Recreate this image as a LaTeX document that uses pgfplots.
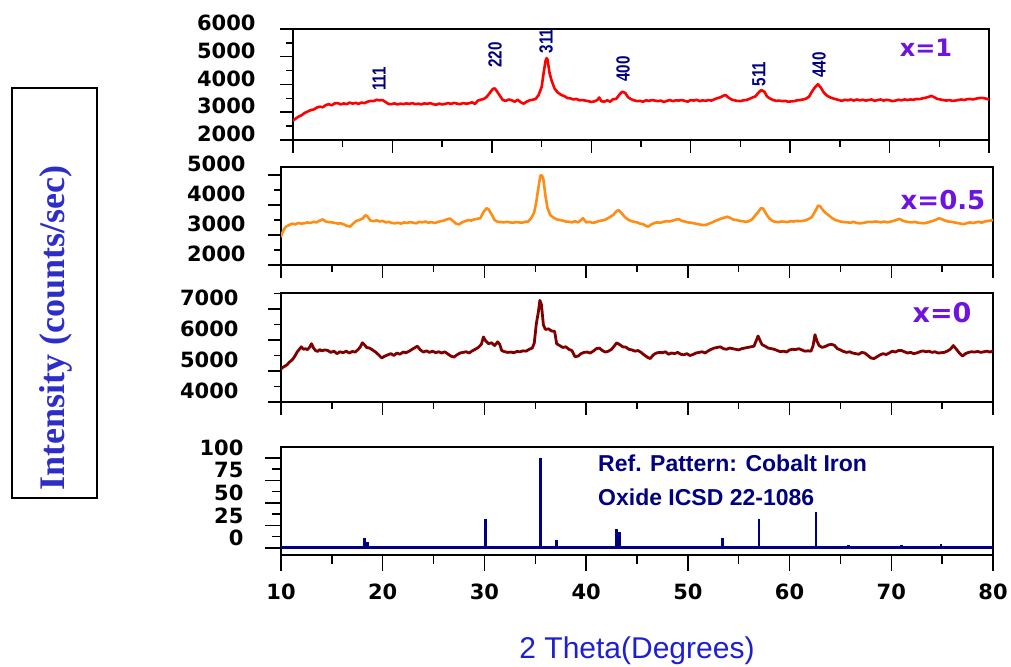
\documentclass[border=0pt]{standalone}
\usepackage{pgfplots}
\pgfplotsset{compat=1.18}
\usepackage{fontspec}
\setmainfont{Liberation Sans}
\newfontfamily\dvs{DejaVu Sans}
\newfontfamily\lsb{Liberation Sans}
\newfontfamily\lsn{Liberation Sans}[FakeStretch=0.8]
\newfontfamily\tnr{Liberation Serif}
\definecolor{c1}{RGB}{255,0,0}
\definecolor{c2}{RGB}{255,140,20}
\definecolor{c3}{RGB}{128,0,0}
\definecolor{navy}{RGB}{0,0,128}
\definecolor{lab}{RGB}{110,20,220}
\definecolor{ylab}{RGB}{45,45,200}
\definecolor{xlab}{RGB}{30,30,210}
\pgfplotsset{panel/.style={
  scale only axis, xmin=10, xmax=80,
  axis line style={line width=1.5pt, black},
  every tick/.style={line width=1.5pt, black},
  tick align=outside,
  xtick={10,20,...,80}, minor xtick={15,25,...,75},
  xtick pos=bottom, ytick pos=left,
  major tick length=13pt, minor tick length=7pt,
  scaled ticks=false,
  /pgf/number format/assume math mode=true,
  /pgf/number format/1000 sep={},
  tick label style={font=\dvs\bfseries\fontsize{21}{21}\selectfont},
  every axis plot/.append style={line join=round, line cap=round},
}}
\begin{document}
\begin{tikzpicture}[x=1pt,y=1pt]
\useasboundingbox (0,0) rectangle (1011,666);
% Panel 1: x=1
\begin{axis}[panel, at={(293pt,526pt)}, anchor=south west, width=696pt, height=111pt,
  ymin=2000, ymax=6000, ytick={2000,3000,4000,5000,6000}, minor ytick={2500,3500,4500,5500},
  xticklabels={}, yticklabel style={xshift=-21pt, yshift=6pt}]
\addplot[c1, line width=2.6pt] coordinates {
(10.0,2700)(10.3,2780)(10.6,2850)(10.9,2900)(11.2,2980)(11.5,3030)(11.8,3080)(12.1,3100)(12.4,3170)(12.7,3200)
(13.0,3180)(13.3,3260)(13.6,3290)(13.9,3250)(14.2,3320)(14.5,3330)(14.8,3280)(15.1,3320)(15.4,3290)(15.7,3350)
(16.0,3310)(16.3,3340)(16.6,3300)(16.9,3350)(17.2,3330)(17.5,3380)(17.8,3410)(18.1,3400)(18.4,3450)(18.7,3430)
(19.0,3440)(19.3,3370)(19.6,3300)(19.9,3290)(20.2,3320)(20.5,3280)(20.8,3310)(21.1,3290)(21.4,3320)(21.7,3300)
(22.0,3330)(22.3,3290)(22.6,3310)(22.9,3280)(23.2,3320)(23.5,3300)(23.8,3330)(24.1,3290)(24.4,3270)(24.7,3310)
(25.0,3280)(25.3,3300)(25.6,3330)(25.9,3300)(26.2,3340)(26.5,3310)(26.8,3290)(27.1,3330)(27.4,3310)(27.7,3320)
(28.0,3360)(28.3,3300)(28.6,3420)(28.9,3450)(29.2,3480)(29.5,3560)(29.8,3700)(30.1,3840)(30.3,3860)(30.5,3760)
(30.8,3600)(31.1,3440)(31.4,3410)(31.7,3460)(32.0,3430)(32.3,3380)(32.6,3450)(32.9,3360)(33.2,3310)(33.5,3380)
(33.8,3430)(34.1,3450)(34.4,3480)(34.7,3620)(35.0,3900)(35.2,4400)(35.4,4850)(35.5,4950)(35.6,4900)(35.8,4420)
(36.0,4150)(36.3,3860)(36.6,3720)(37.0,3620)(37.3,3580)(37.6,3510)(37.9,3500)(38.2,3460)(38.5,3480)(38.8,3430)
(39.1,3440)(39.4,3420)(39.7,3400)(40.0,3370)(40.3,3390)(40.6,3440)(40.8,3530)(41.0,3400)(41.3,3380)(41.6,3430)
(41.9,3380)(42.2,3470)(42.5,3480)(42.8,3620)(43.1,3740)(43.4,3700)(43.7,3540)(44.0,3470)(44.3,3430)(44.6,3400)
(44.9,3410)(45.2,3380)(45.5,3430)(45.8,3410)(46.1,3440)(46.4,3420)(46.7,3400)(47.0,3420)(47.3,3370)(47.6,3410)
(47.9,3440)(48.2,3400)(48.5,3430)(48.8,3420)(49.1,3440)(49.4,3410)(49.7,3380)(50.0,3440)(50.3,3420)(50.6,3450)
(50.9,3400)(51.2,3430)(51.5,3410)(51.8,3440)(52.1,3420)(52.4,3470)(52.7,3510)(53.0,3540)(53.3,3600)(53.5,3620)
(53.8,3530)(54.1,3460)(54.4,3430)(54.7,3410)(55.0,3400)(55.3,3430)(55.6,3440)(55.9,3480)(56.2,3530)(56.5,3570)
(56.8,3700)(57.1,3800)(57.4,3740)(57.7,3560)(58.0,3490)(58.3,3440)(58.6,3410)(58.9,3420)(59.2,3400)(59.5,3410)
(59.8,3380)(60.1,3390)(60.4,3400)(60.7,3430)(61.0,3440)(61.3,3460)(61.6,3490)(61.9,3560)(62.2,3750)(62.5,3900)
(62.8,4010)(63.1,3880)(63.4,3700)(63.7,3600)(64.0,3540)(64.3,3500)(64.6,3470)(64.9,3440)(65.2,3410)(65.5,3450)
(65.8,3430)(66.1,3460)(66.4,3420)(66.7,3460)(67.0,3430)(67.3,3450)(67.6,3420)(67.9,3440)(68.2,3460)(68.5,3410)
(68.8,3440)(69.1,3460)(69.4,3420)(69.7,3450)(70.0,3430)(70.3,3400)(70.6,3420)(70.9,3450)(71.2,3430)(71.5,3460)
(71.8,3440)(72.1,3460)(72.4,3450)(72.7,3480)(73.0,3470)(73.3,3500)(73.6,3520)(73.9,3550)(74.2,3590)(74.5,3540)
(74.8,3480)(75.1,3460)(75.4,3440)(75.7,3420)(76.0,3440)(76.3,3410)(76.6,3420)(76.9,3440)(77.2,3460)(77.5,3440)
(77.8,3470)(78.1,3480)(78.4,3460)(78.7,3490)(79.0,3510)(79.3,3520)(79.6,3500)(80.0,3460)};
\end{axis}
% Panel 2: x=0.5
\begin{axis}[panel, at={(281pt,401pt)}, anchor=south west, width=712pt, height=98pt,
  ymin=2000, ymax=5267, ytick={2000,3000,4000,5000}, minor ytick={2500,3500,4500},
  xticklabels={}, yticklabel style={xshift=-19pt, yshift=11pt}]
\addplot[c2, line width=2.6pt] coordinates {
(10.0,2950)(10.1,3050)(10.3,3200)(10.5,3280)(10.8,3330)(11.1,3380)(11.4,3350)(11.7,3400)(12.0,3380)(12.3,3390)
(12.6,3420)(12.9,3400)(13.2,3440)(13.5,3420)(13.8,3480)(14.1,3520)(14.4,3450)(14.7,3430)(15.0,3420)(15.3,3400)
(15.6,3380)(15.9,3390)(16.2,3350)(16.5,3300)(16.8,3280)(17.1,3380)(17.4,3470)(17.7,3500)(18.0,3540)(18.3,3660)
(18.5,3620)(18.8,3480)(19.1,3460)(19.4,3490)(19.7,3450)(20.0,3470)(20.3,3420)(20.6,3440)(20.9,3400)(21.2,3390)
(21.5,3410)(21.8,3380)(22.1,3420)(22.4,3400)(22.7,3430)(23.0,3410)(23.3,3390)(23.6,3440)(23.9,3420)(24.2,3450)
(24.5,3410)(24.8,3430)(25.1,3400)(25.4,3430)(25.7,3460)(26.0,3480)(26.3,3520)(26.6,3550)(26.9,3470)(27.2,3380)
(27.5,3350)(27.8,3420)(28.1,3460)(28.4,3500)(28.7,3480)(29.0,3520)(29.3,3540)(29.6,3560)(29.9,3760)(30.2,3890)
(30.4,3860)(30.7,3690)(31.0,3500)(31.3,3440)(31.6,3430)(31.9,3420)(32.2,3440)(32.5,3420)(32.8,3410)(33.1,3430)
(33.4,3420)(33.7,3410)(34.0,3440)(34.3,3450)(34.6,3560)(34.9,3760)(35.1,4100)(35.3,4560)(35.5,4980)(35.65,4990)
(35.8,4850)(36.0,4300)(36.2,3900)(36.5,3650)(36.8,3580)(37.1,3520)(37.4,3500)(37.7,3480)(38.0,3450)(38.3,3440)
(38.6,3420)(38.9,3460)(39.2,3420)(39.5,3500)(39.7,3560)(40.0,3420)(40.3,3440)(40.6,3410)(40.9,3420)(41.2,3460)
(41.5,3480)(41.8,3500)(42.1,3550)(42.4,3610)(42.7,3680)(43.0,3800)(43.2,3830)(43.5,3720)(43.8,3600)(44.1,3520)
(44.4,3470)(44.7,3440)(45.0,3420)(45.3,3380)(45.6,3360)(45.9,3300)(46.1,3280)(46.4,3350)(46.7,3400)(47.0,3420)
(47.3,3410)(47.6,3440)(47.9,3460)(48.2,3450)(48.5,3480)(48.8,3510)(49.1,3530)(49.4,3470)(49.7,3450)(50.0,3420)
(50.3,3410)(50.6,3390)(50.9,3370)(51.2,3350)(51.5,3330)(51.8,3340)(52.1,3380)(52.4,3420)(52.7,3470)(53.0,3510)
(53.3,3550)(53.6,3580)(53.9,3610)(54.2,3560)(54.5,3510)(54.8,3500)(55.1,3470)(55.4,3460)(55.7,3440)(56.0,3460)
(56.3,3520)(56.6,3640)(56.9,3760)(57.2,3900)(57.4,3880)(57.7,3700)(58.0,3560)(58.3,3470)(58.6,3440)(58.9,3430)
(59.2,3450)(59.5,3440)(59.8,3430)(60.1,3460)(60.4,3450)(60.7,3470)(61.0,3460)(61.3,3470)(61.6,3490)(61.9,3540)
(62.2,3600)(62.5,3780)(62.8,3980)(63.0,3960)(63.3,3820)(63.6,3720)(63.9,3640)(64.2,3560)(64.5,3500)(64.8,3470)
(65.1,3440)(65.4,3430)(65.7,3420)(66.0,3410)(66.3,3440)(66.6,3400)(66.9,3390)(67.2,3400)(67.5,3420)(67.8,3440)
(68.1,3430)(68.4,3450)(68.7,3440)(69.0,3420)(69.3,3450)(69.6,3420)(69.9,3440)(70.2,3470)(70.5,3500)(70.8,3540)
(71.1,3480)(71.4,3450)(71.7,3430)(72.0,3420)(72.3,3440)(72.6,3410)(72.9,3400)(73.2,3390)(73.5,3410)(73.8,3440)
(74.1,3470)(74.4,3510)(74.7,3560)(75.0,3520)(75.3,3480)(75.6,3450)(75.9,3440)(76.2,3420)(76.5,3400)(76.8,3380)
(77.1,3360)(77.4,3390)(77.7,3420)(78.0,3400)(78.3,3420)(78.6,3440)(78.9,3410)(79.2,3450)(79.5,3470)(79.8,3480)(80.0,3500)};
\end{axis}
% Panel 3: x=0
\begin{axis}[panel, at={(281pt,264pt)}, anchor=south west, width=712pt, height=109pt,
  ymin=4000, ymax=7516, ytick={4000,5000,6000,7000}, minor ytick={4500,5500,6500,7500},
  xticklabels={}, yticklabel style={xshift=-26pt, yshift=11pt}]
\addplot[c3, line width=2.8pt] coordinates {
(10.0,5070)(10.2,5120)(10.4,5160)(10.6,5200)(10.8,5280)(11.0,5330)(11.2,5400)(11.4,5500)(11.6,5620)(11.8,5700)
(12.0,5780)(12.2,5700)(12.4,5720)(12.6,5690)(12.8,5760)(13.0,5880)(13.2,5740)(13.4,5660)(13.6,5630)(13.8,5690)
(14.0,5650)(14.3,5680)(14.6,5660)(14.9,5600)(15.2,5640)(15.5,5560)(15.8,5620)(16.1,5590)(16.4,5640)(16.7,5580)
(17.0,5630)(17.3,5610)(17.6,5700)(17.8,5780)(18.0,5910)(18.2,5850)(18.4,5760)(18.7,5740)(19.0,5680)(19.3,5610)
(19.6,5520)(19.9,5420)(20.2,5480)(20.5,5520)(20.8,5560)(21.1,5500)(21.4,5580)(21.7,5540)(22.0,5610)(22.3,5590)
(22.6,5640)(22.9,5700)(23.2,5760)(23.4,5800)(23.7,5680)(24.0,5610)(24.3,5650)(24.6,5600)(24.9,5640)(25.2,5590)
(25.5,5620)(25.8,5580)(26.1,5620)(26.4,5550)(26.7,5480)(27.0,5450)(27.3,5520)(27.6,5580)(27.9,5600)(28.2,5620)
(28.5,5580)(28.8,5650)(29.1,5700)(29.4,5760)(29.7,5860)(29.9,6100)(30.1,5980)(30.4,5880)(30.7,5910)(31.0,5820)
(31.3,5940)(31.5,5860)(31.7,5660)(32.0,5620)(32.3,5600)(32.6,5610)(32.9,5590)(33.2,5630)(33.5,5620)(33.8,5650)
(34.1,5640)(34.4,5700)(34.7,5740)(34.9,5900)(35.1,6520)(35.3,6900)(35.45,7280)(35.6,7150)(35.8,6480)(36.0,6340)
(36.3,6360)(36.6,6290)(36.9,6280)(37.1,5880)(37.4,5820)(37.7,5760)(38.0,5780)(38.3,5700)(38.6,5660)(38.9,5460)
(39.2,5480)(39.5,5560)(39.8,5600)(40.1,5610)(40.4,5580)(40.7,5640)(41.0,5720)(41.3,5740)(41.6,5660)(41.9,5610)
(42.2,5640)(42.5,5700)(42.8,5820)(43.0,5910)(43.3,5850)(43.6,5780)(43.9,5770)(44.2,5700)(44.5,5680)(44.8,5640)
(45.1,5660)(45.4,5600)(45.7,5520)(46.0,5450)(46.3,5400)(46.6,5520)(46.9,5580)(47.2,5600)(47.5,5590)(47.8,5620)
(48.1,5540)(48.4,5580)(48.7,5560)(49.0,5600)(49.3,5540)(49.6,5520)(49.9,5560)(50.2,5500)(50.5,5530)(50.8,5580)
(51.1,5600)(51.4,5620)(51.7,5580)(52.0,5650)(52.3,5700)(52.6,5740)(52.9,5760)(53.2,5780)(53.5,5720)(53.8,5700)
(54.1,5740)(54.4,5720)(54.7,5700)(55.0,5680)(55.3,5720)(55.6,5740)(55.9,5760)(56.2,5780)(56.5,5800)(56.7,5960)
(56.9,6130)(57.1,5980)(57.3,5850)(57.6,5800)(57.9,5740)(58.2,5720)(58.5,5700)(58.8,5660)(59.1,5620)(59.4,5640)
(59.7,5610)(60.0,5680)(60.3,5700)(60.6,5690)(60.9,5720)(61.2,5680)(61.5,5640)(61.8,5650)(62.1,5640)(62.3,5800)
(62.5,6170)(62.7,5960)(62.9,5820)(63.2,5760)(63.5,5790)(63.8,5840)(64.1,5860)(64.4,5830)(64.7,5720)(65.0,5680)
(65.3,5630)(65.6,5600)(65.9,5620)(66.2,5580)(66.5,5560)(66.8,5540)(67.1,5600)(67.4,5580)(67.7,5500)(68.0,5420)
(68.3,5400)(68.6,5460)(68.9,5520)(69.2,5560)(69.5,5530)(69.8,5580)(70.1,5640)(70.4,5610)(70.7,5660)(71.0,5660)
(71.3,5620)(71.6,5580)(71.9,5600)(72.2,5560)(72.5,5580)(72.8,5620)(73.1,5650)(73.4,5620)(73.7,5640)(74.0,5600)
(74.3,5620)(74.6,5580)(74.9,5590)(75.2,5600)(75.5,5640)(75.8,5700)(76.1,5820)(76.4,5700)(76.7,5580)(77.0,5480)
(77.3,5560)(77.6,5600)(77.9,5620)(78.2,5610)(78.5,5630)(78.8,5600)(79.1,5620)(79.4,5640)(79.7,5610)(80.0,5650)};
\end{axis}
% Panel 4: reference pattern
\begin{axis}[panel, at={(281pt,111pt)}, anchor=south west, width=712pt, height=108pt,
  ymin=-7.8, ymax=112, ytick={0,25,50,75,100}, minor ytick={12.5,37.5,62.5,87.5},
  major tick length=16pt, minor tick length=9pt,
  yticklabel style={xshift=-18pt, yshift=10pt}, xticklabel style={yshift=-9pt}]
\addplot[navy, line width=2.6pt, ycomb, line cap=butt] coordinates {
(18.2,11)(18.5,7)(30.1,32)(35.5,100)(37.1,9)(43.0,21)(43.3,18)(53.4,11)(57.0,32)(62.6,40)(65.8,3)(71.0,3)(74.9,4)};
\addplot[navy, line width=3pt, line cap=butt] coordinates {(10,0)(80,0)};
\end{axis}
% annotations
\begin{scope}[every node/.style={inner sep=0pt}]
\foreach \t/\px/\py in {111/379/587, 220/495/611, 311/546/625, 400/623/597, 511/759/592, 440/819/601}
  \node[rotate=90, text=navy, font=\lsn\bfseries\fontsize{19}{19}\selectfont] at (\px,\py) {\t};
\node[text=lab, font=\dvs\bfseries\fontsize{24}{24}\selectfont] at (926,618) {x=1};
\node[text=lab, font=\dvs\bfseries\fontsize{26}{26}\selectfont] at (943,466) {x=0.5};
\node[text=lab, font=\dvs\bfseries\fontsize{27}{27}\selectfont] at (942,353) {x=0};
\node[anchor=west, text=navy, font=\lsb\bfseries\fontsize{23}{23}\selectfont] at (598,203) {Ref. Pattern: Cobalt Iron};
\node[anchor=west, text=navy, font=\lsb\bfseries\fontsize{23}{23}\selectfont] at (598,169) {Oxide ICSD 22-1086};
\node[text=xlab, font=\lsb\fontsize{30}{30}\selectfont] at (637,15) {2 Theta(Degrees)};
\node[rotate=90, text=ylab, font=\tnr\bfseries\fontsize{36}{36}\selectfont] at (56,338) {Intensity (counts/sec)};
\end{scope}
\draw[line width=1.2pt, black] (12,168) rectangle (97,578);
\end{tikzpicture}
\end{document}
